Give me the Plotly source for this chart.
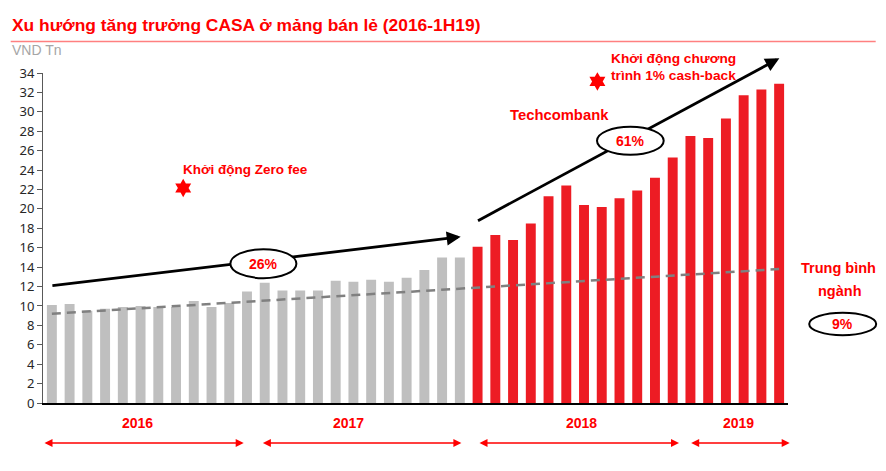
import plotly.graph_objects as go

# ---------------- data ----------------
months = [f"{m:02d}/{y}" for y in (2016, 2017, 2018) for m in range(1, 13)] + \
         [f"{m:02d}/2019" for m in range(1, 7)]

# CASA retail balances (VND Tn)
casa_2016_2017 = [10.1, 10.2, 9.5, 9.7, 9.9, 10.0, 9.9, 9.9, 10.5, 9.9, 10.3, 11.5,
                  12.4, 11.6, 11.6, 11.6, 12.6, 12.5, 12.7, 12.5, 12.9, 13.7, 15.0, 15.0]
casa_2018_2019 = [16.1, 17.3, 16.8, 18.5, 21.3, 22.4, 20.4, 20.2, 21.1, 21.9, 23.2, 25.3,
                  27.5, 27.3, 29.3, 31.7, 32.3, 32.9]

industry_trend = [9.2, 13.8]          # industry average trend (start, end)
y_ticks = list(range(0, 35, 2))

year_labels = ["2016", "2017", "2018", "2019"]
growth_labels = ["26%", "61%", "9%"]

grey_months = months[:24]
red_months = months[24:]

GREY = "#BFBFBF"
RED = "#ED1C24"
TXT_RED = "#FF0000"
FONT = "Liberation Sans"

# the page body has an 8px margin: lay out in window pixels, then offset
OFF = 8
WIN_W, WIN_H = 886, 471
W, H = WIN_W - OFF, WIN_H - OFF
# plot-area in window pixel geometry
L, R, T, B = 43.3, 788.3, 73.3, 403.3


def px(x):
    return (x - L) / (R - L)


def py(y):
    return (B - y) / (B - T)


fig = go.Figure()
fig.add_trace(go.Bar(x=grey_months, y=casa_2016_2017, marker_color=GREY,
                     marker_line_width=0, name="2016-2017"))
fig.add_trace(go.Bar(x=red_months, y=casa_2018_2019, marker_color=RED,
                     marker_line_width=0, name="Techcombank"))
fig.add_trace(go.Scatter(x=[months[0], months[-1]], y=industry_trend, mode="lines",
                         line=dict(color="#808080", width=2.5, dash="9px,6px"),
                         name="Trung bình ngành"))

# stars on an overlay pixel-space axis
fig.add_trace(go.Scatter(x=[183.5, 597.7], y=[188.3, 81.7], mode="markers",
                         marker=dict(symbol="hexagram", size=14, color=TXT_RED,
                                     line=dict(width=0)),
                         xaxis="x2", yaxis="y2", cliponaxis=False, hoverinfo="skip"))

shapes = []
annotations = []

# title underline
shapes.append(dict(type="line", xref="paper", yref="paper",
                   x0=px(11), x1=px(876), y0=py(41.7), y1=py(41.7),
                   line=dict(color="#FF8080", width=1.5)))

# growth arrows (line part)
arrows = [((52.7, 286.0), (458.0, 237.5)), ((478.3, 221.0), (777.0, 60.0))]
for (x0, y0), (x1, y1) in arrows:
    shapes.append(dict(type="line", xref="paper", yref="paper",
                       x0=px(x0), y0=py(y0), x1=px(x1), y1=py(y1),
                       line=dict(color="black", width=2.8)))

# ellipses
ellipses = [(230.7, 249.5, 296.7, 278.5), (597.3, 127.0, 664.0, 155.0),
            (809.5, 313.0, 876.5, 335.5)]
for x0, y0, x1, y1 in ellipses:
    shapes.append(dict(type="circle", xref="paper", yref="paper",
                       x0=px(x0), x1=px(x1), y0=py(y1), y1=py(y0),
                       fillcolor="white", line=dict(color="black", width=2)))

# year double arrows
year_arrows = [(43.3, 244.0), (261.7, 461.7), (478.3, 679.3), (690.0, 790.0)]
year_centers = [137.7, 348.3, 581.7, 739.0]
for (x0, x1), xc, lab in zip(year_arrows, year_centers, year_labels):
    annotations.append(dict(xref="paper", yref="paper", x=px(x1), y=py(443.3),
                            ax=x0 - x1, ay=0,
                            text="", showarrow=True, arrowhead=2, arrowside="end+start",
                            arrowsize=1, arrowwidth=1.6, arrowcolor=TXT_RED))
    annotations.append(dict(xref="paper", yref="paper", x=px(xc), y=py(423.3),
                            text=f"<b>{lab}</b>", showarrow=False,
                            font=dict(family=FONT, size=14, color=TXT_RED),
                            xanchor="center", yanchor="middle"))

# arrowheads for growth arrows
for (x0, y0), (x1, y1) in arrows:
    dx, dy = x1 - x0, y1 - y0
    n = (dx ** 2 + dy ** 2) ** 0.5
    annotations.append(dict(xref="paper", yref="paper", x=px(x1 + 3 * dx / n), y=py(y1 + 3 * dy / n),
                            ax=-14 * dx / n, ay=-14 * dy / n, text="", showarrow=True,
                            arrowhead=2, arrowsize=1, arrowwidth=2.8, arrowcolor="black"))


def text(x, y, s, size=13, color=TXT_RED, bold=True, xanchor="left"):
    annotations.append(dict(xref="paper", yref="paper", x=px(x), y=py(y),
                            text=f"<b>{s}</b>" if bold else s, showarrow=False,
                            font=dict(family=FONT, size=size, color=color),
                            xanchor=xanchor, yanchor="middle"))


text(10.5, 25.0, "Xu hướng tăng trưởng CASA ở mảng bán lẻ (2016-1H19)", size=17.4)
text(10.5, 50.5, "VND Tn", size=14, color="#A6A6A6", bold=False)
text(181.0, 169.5, "Khởi động Zero fee", size=13.5)
text(609.5, 59.3, "Khởi động chương", size=13.7)
text(609.5, 75.3, "trình 1% cash-back", size=13.7)
text(508.5, 115.7, "Techcombank", size=14.8)
text(839.0, 268.3, "Trung bình", size=14.5, xanchor="center")
text(840.0, 291.7, "ngành", size=14.5, xanchor="center")
text(263.7, 264.0, growth_labels[0], size=14, xanchor="center")
text(630.7, 141.0, growth_labels[1], size=14, xanchor="center")
text(843.0, 324.5, growth_labels[2], size=14, xanchor="center")

fig.update_layout(
    width=W, height=H,
    margin=dict(l=L - OFF, r=WIN_W - R, t=T - OFF, b=WIN_H - B, pad=0),
    paper_bgcolor="white", plot_bgcolor="white",
    showlegend=False, bargap=0.44,
    shapes=shapes, annotations=annotations,
    xaxis=dict(type="category", showticklabels=False, ticks="", showgrid=False,
               showline=True, linecolor="black", linewidth=1.5, zeroline=False,
               fixedrange=True),
    yaxis=dict(range=[0, 34], tickvals=y_ticks, showgrid=False, zeroline=False,
               showline=True, linecolor="#595959", linewidth=1, ticks="outside",
               ticklen=5, tickcolor="#595959",
               tickfont=dict(family="Noto Sans", size=13, color="#262626")),
    xaxis2=dict(range=[L, R], overlaying="x", visible=False, fixedrange=True),
    yaxis2=dict(range=[B, T], overlaying="y", visible=False, fixedrange=True),
)

fig.write_html("out.html")
